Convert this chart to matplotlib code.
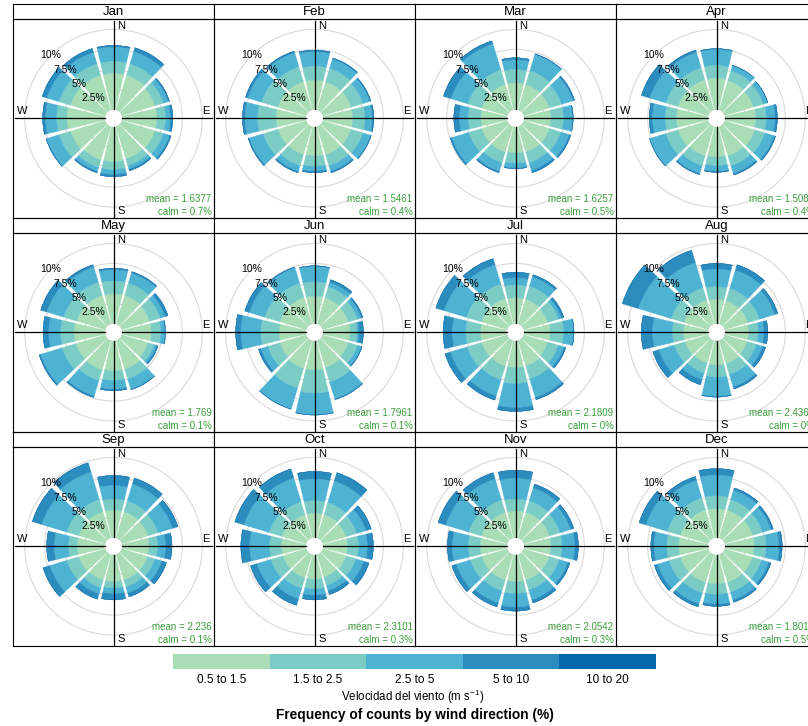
import matplotlib
matplotlib.use('Agg')
import matplotlib.pyplot as plt
import numpy as np

plt.rcParams['font.family'] = ['Liberation Sans', 'DejaVu Sans']
plt.rcParams['mathtext.fontset'] = 'custom'
plt.rcParams['mathtext.rm'] = 'Liberation Sans'
plt.rcParams['mathtext.default'] = 'regular'

# ---- data ----
months = ['Jan', 'Feb', 'Mar', 'Apr', 'May', 'Jun',
          'Jul', 'Aug', 'Sep', 'Oct', 'Nov', 'Dec']
directions = [0, 30, 60, 90, 120, 150, 180, 210, 240, 270, 300, 330]
speed_bins = ['0.5 to 1.5', '1.5 to 2.5', '2.5 to 5', '5 to 10', '10 to 20']
bin_colors = ['#A8DDB5', '#7BCCC4', '#4EB3D3', '#2B8CBE', '#0868AC']
mean_ws = ['1.6377', '1.5461', '1.6257', '1.5084', '1.769', '1.7961',
           '2.1809', '2.4362', '2.236', '2.3101', '2.0542', '1.8013']
calm_pct = ['0.7', '0.4', '0.5', '0.4', '0.1', '0.1',
            '0', '0', '0.1', '0.3', '0.3', '0.5']

# frequency (%) per direction (rows, N clockwise) and speed bin (cols)
jan = [[4.5, 1.5, 1.8, 0.2, 0], [4.5, 1.5, 1.6, 0.5, 0], [4.3, 1.1, 0.6, 0.2, 0],
       [4.3, 1.1, 0.6, 0.3, 0], [4.3, 1.1, 0.8, 0.2, 0], [4.2, 0.9, 0.4, 0.25, 0],
       [4.3, 1.0, 0.6, 0.3, 0], [4.3, 1.0, 0.5, 0.2, 0], [4.5, 1.5, 1.6, 0.1, 0],
       [4.7, 1.3, 1.4, 0.35, 0], [4.5, 1.5, 1.6, 0.6, 0], [4.5, 1.5, 1.5, 0.5, 0]]
feb = [[3.65, 1.75, 1.8, 0.2, 0], [3.65, 1.75, 1.2, 0.15, 0], [3.65, 1.55, 0.9, 0.15, 0],
       [3.65, 1.55, 0.9, 0.2, 0], [3.65, 1.55, 1.0, 0.1, 0], [3.65, 1.45, 0.7, 0.2, 0],
       [3.6, 1.3, 0.6, 0.2, 0], [3.65, 1.45, 0.7, 0.2, 0], [3.65, 1.95, 1.8, 0.15, 0],
       [3.7, 2.3, 1.6, 0.3, 0], [3.65, 2.15, 1.8, 0.3, 0], [3.65, 1.95, 1.85, 0.2, 0]]
mar = [[3.3, 1.7, 1.2, 0.25, 0], [3.3, 1.8, 2.1, 0.1, 0], [3.3, 1.6, 1.5, 0.2, 0],
       [3.3, 1.6, 1.1, 0.1, 0], [3.3, 1.5, 1.1, 0.2, 0], [3.3, 1.4, 1.0, 0.3, 0],
       [3.2, 1.3, 0.6, 0.1, 0], [3.3, 1.4, 1.1, 0.2, 0], [3.3, 1.7, 2.2, 0.2, 0],
       [3.2, 1.6, 1.1, 0.7, 0], [3.3, 1.8, 2.2, 1.0, 0], [3.3, 1.9, 3.4, 0.4, 0]]
apr = [[3.9, 1.6, 2.0, 0.1, 0], [3.8, 1.3, 0.65, 0.05, 0], [3.7, 1.3, 0.55, 0.05, 0],
       [3.8, 1.3, 1.1, 0.3, 0], [3.9, 1.3, 1.2, 0.2, 0], [3.8, 1.3, 1.0, 0.2, 0],
       [3.7, 1.1, 0.7, 0.15, 0], [3.8, 1.3, 1.0, 0.15, 0], [3.9, 1.6, 2.1, 0.05, 0],
       [3.9, 1.4, 1.6, 0.4, 0], [3.9, 1.6, 2.1, 1.1, 0], [3.9, 1.6, 2.0, 0.3, 0]]
may = [[3.7, 1.6, 1.4, 0.2, 0], [3.7, 1.6, 1.3, 0.2, 0], [3.6, 1.4, 0.6, 0.4, 0],
       [3.6, 1.2, 0.5, 0.1, 0], [3.4, 0.8, 0.3, 0.2, 0], [3.7, 1.3, 1.3, 0.1, 0],
       [3.7, 1.2, 1.1, 0.2, 0], [3.8, 1.4, 2.0, 0.2, 0], [3.8, 1.8, 2.8, 0.2, 0],
       [3.8, 1.7, 1.5, 0.7, 0], [3.7, 1.7, 2.2, 0.8, 0], [3.7, 1.7, 2.0, 0.3, 0]]
jun = [[3.4, 1.8, 1.9, 0.1, 0], [3.4, 1.4, 0.6, 0.35, 0], [3.3, 1.2, 0.5, 0.2, 0],
       [3.3, 0.9, 0.25, 0.55, 0], [3.3, 1.2, 0.5, 0.1, 0], [3.5, 1.9, 2.2, 0.1, 0],
       [3.6, 2.9, 2.7, 0.05, 0], [3.6, 2.6, 2.7, 0.05, 0], [3.4, 1.6, 0.9, 0.3, 0],
       [3.3, 2.3, 2.5, 0.65, 0], [3.4, 2.0, 2.0, 0.6, 0], [3.4, 1.9, 2.0, 0.1, 0]]
jul = [[3.2, 1.6, 0.9, 0.7, 0], [3.2, 1.7, 1.2, 0.3, 0], [3.1, 1.4, 0.4, 0.3, 0],
       [3.2, 1.7, 1.2, 0.1, 0], [3.1, 1.4, 0.7, 0.25, 0], [3.3, 1.7, 2.4, 0.3, 0],
       [3.3, 2.0, 3.0, 0.5, 0], [3.3, 1.8, 2.1, 0.55, 0], [3.3, 1.9, 2.2, 0.7, 0],
       [3.25, 1.85, 1.7, 1.15, 0], [3.3, 2.0, 2.9, 1.1, 0], [3.3, 1.9, 2.5, 0.8, 0]]
aug = [[3.0, 1.6, 2.2, 0.7, 0], [3.0, 1.6, 2.4, 0.7, 0], [3.0, 1.5, 2.0, 0.4, 0],
       [2.9, 1.2, 0.7, 0.5, 0], [2.9, 1.2, 0.8, 0.4, 0], [3.0, 1.4, 1.6, 0.3, 0],
       [3.0, 1.5, 2.4, 0.1, 0], [2.9, 1.3, 0.9, 0.65, 0], [3.0, 1.4, 2.0, 0.8, 0],
       [3.0, 1.4, 2.5, 1.4, 0], [3.1, 1.7, 4.3, 2.1, 0], [3.1, 1.6, 3.3, 1.6, 0]]
sep = [[3.4, 1.4, 1.7, 1.25, 0], [3.4, 1.4, 2.2, 0.8, 0], [3.4, 1.3, 1.9, 0.7, 0],
       [3.3, 1.1, 1.0, 0.8, 0], [3.3, 1.0, 0.9, 0.6, 0], [3.3, 0.9, 0.8, 0.5, 0],
       [3.3, 0.8, 0.7, 0.8, 0], [3.3, 1.0, 0.8, 0.7, 0], [3.4, 1.6, 2.2, 0.9, 0],
       [3.4, 1.1, 1.8, 0.95, 0], [3.4, 1.6, 3.25, 1.25, 0], [3.4, 1.6, 3.6, 1.2, 0]]
oct_ = [[3.0, 1.6, 2.7, 0.95, 0], [3.0, 1.6, 2.8, 1.1, 0], [3.0, 1.4, 1.2, 0.7, 0],
        [3.0, 1.4, 1.1, 0.75, 0], [3.0, 1.3, 1.0, 0.7, 0], [2.9, 1.1, 0.7, 0.5, 0],
        [3.0, 1.2, 0.8, 0.6, 0], [3.0, 1.4, 1.35, 0.85, 0], [3.0, 1.6, 1.8, 0.85, 0],
        [3.0, 1.5, 2.5, 1.1, 0], [3.1, 1.7, 3.3, 1.2, 0], [3.0, 1.7, 3.1, 1.2, 0]]
nov = [[3.3, 1.5, 2.6, 1.0, 0], [3.3, 1.5, 1.7, 0.5, 0], [3.3, 1.4, 1.4, 0.4, 0],
       [3.3, 1.4, 1.6, 0.45, 0], [3.3, 1.3, 1.1, 0.3, 0], [3.3, 1.3, 1.3, 0.4, 0],
       [3.3, 1.5, 1.7, 0.5, 0], [3.3, 1.4, 1.6, 0.5, 0], [3.3, 1.5, 1.8, 0.6, 0],
       [3.3, 1.5, 2.0, 0.6, 0], [3.3, 1.7, 3.0, 1.0, 0], [3.3, 1.6, 2.8, 0.8, 0]]
dec = [[3.6, 1.6, 2.6, 0.8, 0], [3.6, 1.4, 1.2, 0.3, 0], [3.6, 1.3, 1.1, 0.3, 0],
       [3.6, 1.5, 1.6, 0.4, 0], [3.6, 1.2, 0.9, 0.3, 0], [3.6, 1.3, 1.0, 0.3, 0],
       [3.6, 1.3, 1.2, 0.3, 0], [3.6, 1.4, 1.4, 0.4, 0], [3.6, 1.5, 1.5, 0.4, 0],
       [3.6, 1.5, 1.6, 0.4, 0], [3.6, 1.7, 2.8, 0.9, 0], [3.6, 1.6, 2.3, 0.5, 0]]
month_freq = [jan, feb, mar, apr, may, jun, jul, aug, sep, oct_, nov, dec]

grid_pct = [2.5, 5, 7.5, 10]

# ---- layout (pixels) ----
W, H = 808, 726
fig = plt.figure(figsize=(W / 100, H / 100), dpi=100)

col_x = [13, 214, 415, 616]
strip_top = [4, 218, 432]
panel_w, strip_h, panel_h = 201, 14.5, 199.5
OFF = 1.125      # centre hole
RMAX = 12.5
GAP = 1.8        # degrees of white on each side of a sector
ppu = min(panel_w, panel_h) / 2 / RMAX


def rect(x, y, w, h):
    return [x / W, 1 - (y + h) / H, w / W, h / H]


theta_c = np.linspace(0, 2 * np.pi, 361)
dir_rad = np.deg2rad(directions)
sector_w = np.deg2rad(30 - 2 * GAP)

for i, m in enumerate(months):
    r, c = divmod(i, 4)
    x0 = col_x[c]
    ys = strip_top[r]
    yp = ys + strip_h

    # strip
    sax = fig.add_axes(rect(x0, ys, panel_w, strip_h))
    sax.set_xticks([])
    sax.set_yticks([])
    for s in sax.spines.values():
        s.set_linewidth(0.8)
    sax.text(0.5, 0.45, m, ha='center', va='center', fontsize=9.5, transform=sax.transAxes)

    # rose in polar coordinates
    pax = fig.add_axes(rect(x0, yp, panel_w, panel_h), projection='polar', zorder=2)
    pax.set_theta_zero_location('N')
    pax.set_theta_direction(-1)
    pax.set_ylim(0, RMAX)
    pax.axis('off')

    for p in [0] + grid_pct:
        pax.plot(theta_c, np.full_like(theta_c, OFF + p), color='#D9D9D9', lw=0.8, zorder=1)

    f = np.array(month_freq[i], dtype=float)
    bottom = np.full(len(directions), OFF)
    for k in range(len(speed_bins)):
        pax.bar(dir_rad, f[:, k], width=sector_w, bottom=bottom, color=bin_colors[k],
                edgecolor=bin_colors[k], linewidth=0.2, align='center', zorder=2)
        bottom = bottom + f[:, k]

    # axis cross
    for ang, rr in [(0, 12.15), (np.pi / 2, 12.5), (np.pi, 12.5), (1.5 * np.pi, 12.3)]:
        pax.plot([ang, ang], [OFF, rr], color='black', lw=0.9, zorder=3)

    for p in grid_pct:
        lab = f'{p:g}%'
        pax.text(np.deg2rad(315), OFF + p, lab, ha='center', va='center', fontsize=7.5, zorder=4)

    # panel frame and annotations
    ax = fig.add_axes(rect(x0, yp, panel_w, panel_h), zorder=3)
    ax.set_facecolor('none')
    ax.set_xlim(-panel_w / 2 / ppu, panel_w / 2 / ppu)
    ax.set_ylim(-panel_h / 2 / ppu, panel_h / 2 / ppu)
    ax.set_xticks([])
    ax.set_yticks([])
    for s in ax.spines.values():
        s.set_linewidth(0.8)
    ax.text(0.45, 11.6, 'N', ha='left', va='center', fontsize=8)
    ax.text(0.45, -11.6, 'S', ha='left', va='center', fontsize=8)
    ax.text(-11.5, 0.85, 'W', ha='center', va='center', fontsize=8)
    ax.text(11.6, 0.85, 'E', ha='center', va='center', fontsize=8)
    ax.text(1 - 2.5 / panel_w, 19 / panel_h, f'mean = {mean_ws[i]}', ha='right', va='center',
            fontsize=7, color='#3A9E3A', transform=ax.transAxes)
    ax.text(1 - 2.5 / panel_w, 6 / panel_h, f'calm = {calm_pct[i]}%', ha='right', va='center',
            fontsize=7, color='#3A9E3A', transform=ax.transAxes)

# ---- colour key ----
kax = fig.add_axes(rect(173, 654, 483, 15))
kax.bar(range(len(speed_bins)), [1] * len(speed_bins), width=1, color=bin_colors, linewidth=0)
kax.set_xlim(-0.5, len(speed_bins) - 0.5)
kax.set_ylim(0, 1)
kax.set_yticks([])
kax.set_xticks(range(len(speed_bins)))
kax.set_xticklabels(speed_bins, fontsize=8.5)
kax.tick_params(axis='x', length=0, pad=3.5)
for s in kax.spines.values():
    s.set_visible(False)

fig.text(413 / W, 1 - 697 / H, 'Velocidad del viento (m s$^{-1}$)', ha='center', va='center', fontsize=8.3)
fig.text(415 / W, 1 - 715 / H, 'Frequency of counts by wind direction (%)', ha='center', va='center',
         fontsize=9.9, fontweight='bold')

fig.savefig('out.png', dpi=100)
